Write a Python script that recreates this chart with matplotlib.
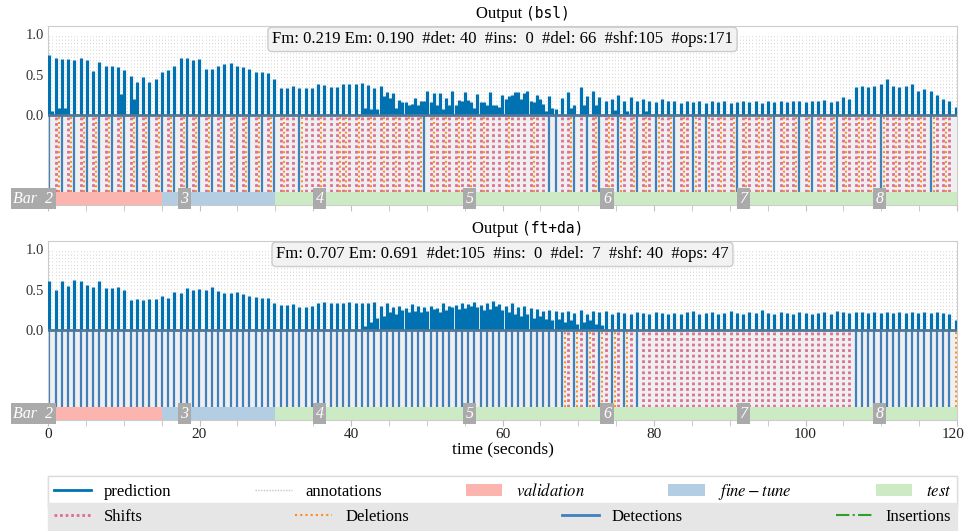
import matplotlib.pyplot as plt
from matplotlib.lines import Line2D
from matplotlib.patches import Patch
from matplotlib.transforms import ScaledTranslation

plt.rcParams['font.family'] = ['Liberation Serif', 'DejaVu Serif']
plt.rcParams['mathtext.fontset'] = 'stix'

# annotation grid (seconds)
annotations = [
    0.18, 0.59, 1.01, 1.42, 1.83, 2.24, 2.66, 3.07, 3.48, 3.89, 4.31, 4.72, 5.13, 5.54, 5.96, 6.37, 6.78, 7.19, 7.61, 8.02,
    8.43, 8.84, 9.26, 9.67, 10.08, 10.49, 10.91, 11.32, 11.73, 12.14, 12.56, 12.97, 13.38, 13.79, 14.21, 14.62, 15.03, 15.44, 15.86, 16.27,
    16.68, 17.09, 17.51, 17.92, 18.33, 18.74, 19.16, 19.57, 19.98, 20.39, 20.81, 21.22, 21.63, 22.04, 22.46, 22.87, 23.28, 23.69, 24.11, 24.52,
    24.93, 25.34, 25.76, 26.17, 26.58, 26.99, 27.41, 27.82, 28.23, 28.64, 29.06, 29.47, 29.88, 30.29, 30.71, 31.12, 31.53, 31.94, 32.36, 32.77,
    33.18, 33.59, 34.01, 34.42, 34.83, 35.24, 35.66, 36.07, 36.48, 36.89, 37.31, 37.72, 38.13, 38.54, 38.96, 39.37, 39.78, 40.19, 40.61, 41.02,
    41.43, 41.84, 42.26, 42.67, 43.08, 43.49, 43.91, 44.32, 44.73, 45.14, 45.56, 45.97, 46.38, 46.79, 47.21, 47.62, 48.03, 48.44, 48.86, 49.27,
    49.68, 50.09, 50.51, 50.92, 51.33, 51.74, 52.16, 52.57, 52.98, 53.39, 53.81, 54.22, 54.63, 55.04, 55.46, 55.87, 56.28, 56.69, 57.11, 57.52,
    57.93, 58.34, 58.76, 59.17, 59.58, 59.99, 60.41, 60.82, 61.23, 61.64, 62.06, 62.47, 62.88, 63.29, 63.71, 64.12, 64.53, 64.94, 65.36, 65.77,
    66.18, 66.59, 67.01, 67.42, 67.83, 68.24, 68.66, 69.07, 69.48, 69.89, 70.31, 70.72, 71.13, 71.54, 71.96, 72.37, 72.78, 73.19, 73.61, 74.02,
    74.43, 74.84, 75.26, 75.67, 76.08, 76.49, 76.91, 77.32, 77.73, 78.14, 78.56, 78.97, 79.38, 79.79, 80.21, 80.62, 81.03, 81.44, 81.86, 82.27,
    82.68, 83.09, 83.51, 83.92, 84.33, 84.74, 85.16, 85.57, 85.98, 86.39, 86.81, 87.22, 87.63, 88.04, 88.46, 88.87, 89.28, 89.69, 90.11, 90.52,
    90.93, 91.34, 91.76, 92.17, 92.58, 92.99, 93.41, 93.82, 94.23, 94.64, 95.06, 95.47, 95.88, 96.29, 96.71, 97.12, 97.53, 97.94, 98.36, 98.77,
    99.18, 99.59, 100.01, 100.42, 100.83, 101.24, 101.66, 102.07, 102.48, 102.89, 103.31, 103.72, 104.13, 104.54, 104.96, 105.37, 105.78, 106.19, 106.61, 107.02,
    107.43, 107.84, 108.26, 108.67, 109.08, 109.49, 109.91, 110.32, 110.73, 111.14, 111.56, 111.97, 112.38, 112.79, 113.21, 113.62, 114.03, 114.44, 114.86, 115.27,
    115.68, 116.09, 116.51, 116.92, 117.33, 117.74, 118.16, 118.57, 118.98, 119.39, 119.81,
]

# edit operation at each annotation: d=detection, s=shift, x=deletion, .=none
bsl_ops = (
    "d.sxd.sxd.sxd.sxd.sx" "d.sxd.sxd.sxd.sxd.sx" "d.sxd.sxd.sxd.sxd.sx"
    "d.sxd.sxd.sxd.sxs.s." "dxs.s.sxs.s.sxsxs.sx" "s.sxs.sxs.sxs.sxs.sx"
    "d.sxs.sxs.sxs.sxs.sx" "s.s.s.sxs.s.s.sxs.s." "d.d.s.sxd.s.d.sxd.sx"
    "s.dxs.sxd.sxs.dxs.sx" "d.sxs.dxs.dxs.sxs.sx" "d.sxs.sxs.sxd.sxs.sx"
    "d.sxd.sxs.sxd.sxs.sx" "s.sxs.dxs.sxs.sxs.sx" "s.dxs.sxs.."
)
ftda_ops = (
    "d.d.d.d.d.d.d.d.d.d." "d.d.d.d.d.d.d.d.d.d." "d.d.d.d.d.d.d.d.d.d."
    "d.d.d.d.d.d.d.d.d.d." "d.d.d.d.d.d.d.d.d.d." "d.d.d.d.d.d.d.d.d.d."
    "d.d.d.d.d.d.d.d.d.d." "d.d.d.d.d.d.d.d.d.d." "d.d.dxs.dxs.dxs.dxs."
    "dxs.dxs.d.s.s.s.s.s." "s.s.s.s.s.s.s.s.s.s." "s.s.s.s.s.s.s.s.s.s."
    "s.s.s.s.s.s.s.s.s.d." "d.d.d.d.d.d.d.d.d.d." "d.d.d.d.d.x"
)

# network activation peak at each annotation
bsl_pred = [
    0.74, 0.05, 0.70, 0.09, 0.69, 0.09, 0.69, 0, 0.68, 0, 0.70, 0, 0.68, 0, 0.54, 0, 0.65, 0, 0.60, 0,
    0.60, 0, 0.59, 0.26, 0.56, 0, 0.48, 0.20, 0.41, 0, 0.47, 0, 0.41, 0, 0.45, 0, 0.53, 0, 0.56, 0,
    0.60, 0, 0.70, 0, 0.70, 0, 0.68, 0, 0.69, 0, 0.57, 0, 0.57, 0, 0.60, 0, 0.63, 0, 0.64, 0,
    0.61, 0, 0.59, 0, 0.57, 0, 0.53, 0, 0.53, 0, 0.52, 0, 0.45, 0, 0.34, 0, 0.33, 0, 0.36, 0,
    0.34, 0, 0.34, 0, 0.34, 0, 0.38, 0, 0.37, 0, 0.35, 0, 0.35, 0, 0.38, 0, 0.39, 0, 0.39, 0,
    0.40, 0.09, 0.37, 0.07, 0.33, 0.08, 0.36, 0.23, 0.29, 0.21, 0.27, 0.09, 0.19, 0.16, 0.16, 0.12, 0.14, 0.21, 0.12, 0.17,
    0.17, 0.30, 0.16, 0.27, 0.12, 0.27, 0.07, 0.21, 0.12, 0.30, 0.12, 0.19, 0.17, 0.28, 0.19, 0.16, 0.09, 0.26, 0.16, 0.16,
    0.12, 0.28, 0.12, 0.12, 0.10, 0.25, 0.20, 0.23, 0.25, 0.28, 0.29, 0.20, 0.27, 0.30, 0.18, 0.16, 0.25, 0.20, 0.14, 0.05,
    0.23, 0.09, 0.07, 0, 0.21, 0, 0.28, 0.09, 0.12, 0, 0.35, 0.12, 0.23, 0, 0.30, 0.12, 0.22, 0, 0.18, 0,
    0.20, 0.06, 0.25, 0, 0.18, 0.05, 0.22, 0, 0.17, 0, 0.20, 0.05, 0.18, 0, 0.16, 0, 0.20, 0, 0.17, 0,
    0.17, 0, 0.15, 0, 0.18, 0, 0.16, 0, 0.17, 0, 0.15, 0, 0.18, 0, 0.16, 0, 0.17, 0, 0.15, 0,
    0.16, 0, 0.18, 0, 0.16, 0, 0.17, 0, 0.15, 0, 0.18, 0, 0.16, 0, 0.17, 0, 0.16, 0, 0.18, 0,
    0.17, 0, 0.16, 0, 0.18, 0, 0.17, 0, 0.19, 0, 0.16, 0, 0.18, 0, 0.22, 0, 0.20, 0, 0.35, 0,
    0.36, 0, 0.35, 0, 0.36, 0, 0.38, 0, 0.45, 0, 0.36, 0, 0.35, 0, 0.36, 0, 0.38, 0, 0.30, 0,
    0.32, 0, 0.30, 0, 0.25, 0, 0.20, 0, 0.18, 0, 0.10,
]
ftda_pred = [
    0.60, 0, 0.49, 0, 0.61, 0, 0.54, 0, 0.62, 0, 0.61, 0, 0.56, 0, 0.53, 0, 0.61, 0, 0.52, 0,
    0.52, 0, 0.53, 0, 0.50, 0, 0.37, 0, 0.38, 0, 0.37, 0, 0.38, 0, 0.38, 0, 0.42, 0, 0.40, 0,
    0.47, 0, 0.46, 0, 0.52, 0, 0.49, 0, 0.51, 0, 0.50, 0, 0.53, 0, 0.48, 0, 0.46, 0, 0.46, 0,
    0.47, 0, 0.44, 0, 0.42, 0, 0.41, 0, 0.40, 0, 0.40, 0, 0.34, 0, 0.31, 0, 0.31, 0, 0.32, 0,
    0.29, 0, 0.29, 0, 0.30, 0, 0.33, 0, 0.35, 0, 0.33, 0, 0.34, 0, 0.33, 0, 0.35, 0, 0.34, 0,
    0.34, 0.05, 0.33, 0.10, 0.35, 0.15, 0.30, 0.18, 0.33, 0.22, 0.28, 0.20, 0.30, 0.25, 0.27, 0.22, 0.32, 0.24, 0.30, 0.22,
    0.28, 0.24, 0.30, 0.26, 0.27, 0.22, 0.33, 0.25, 0.30, 0.28, 0.31, 0.26, 0.34, 0.27, 0.32, 0.30, 0.35, 0.28, 0.31, 0.25,
    0.34, 0.26, 0.36, 0.30, 0.32, 0.25, 0.30, 0.22, 0.33, 0.20, 0.28, 0.18, 0.30, 0.20, 0.27, 0.15, 0.26, 0.18, 0.24, 0.14,
    0.25, 0.12, 0.23, 0.14, 0.22, 0.10, 0.24, 0.12, 0.21, 0.08, 0.25, 0.10, 0.20, 0.12, 0.23, 0.08, 0.22, 0.06, 0.24, 0,
    0.20, 0, 0.22, 0, 0.21, 0, 0.20, 0, 0.22, 0, 0.21, 0, 0.20, 0, 0.22, 0, 0.21, 0, 0.20, 0,
    0.21, 0, 0.20, 0, 0.22, 0, 0.24, 0, 0.20, 0, 0.21, 0, 0.22, 0, 0.20, 0, 0.21, 0, 0.23, 0,
    0.21, 0, 0.20, 0, 0.22, 0, 0.21, 0, 0.25, 0, 0.21, 0, 0.20, 0, 0.22, 0, 0.21, 0, 0.20, 0,
    0.22, 0, 0.21, 0, 0.20, 0, 0.21, 0, 0.22, 0, 0.20, 0, 0.23, 0, 0.22, 0, 0.21, 0, 0.22, 0,
    0.22, 0, 0.21, 0, 0.22, 0, 0.21, 0, 0.22, 0, 0.21, 0, 0.22, 0, 0.21, 0, 0.22, 0, 0.21, 0,
    0.22, 0, 0.21, 0, 0.22, 0, 0.21, 0, 0.20, 0, 0.12,
]

models = ['bsl', 'ft+da']
fm = [0.219, 0.707]
em = [0.190, 0.691]
n_det = [40, 105]
n_ins = [0, 0]
n_del = [66, 7]
n_shf = [105, 40]
n_ops = [171, 47]

bar_numbers = [2, 3, 4, 5, 6, 7, 8]
bar_starts = [0.0, 18.0, 35.9, 55.7, 73.8, 91.8, 109.8]

split_names = ['validation', 'fine-tune', 'test']
split_bounds = [0, 15, 30, 120]
split_colors = ['#fbb4ae', '#b3cde3', '#ccebc5']

pred_color = '#0072b2'
det_color = '#3f80bd'
shf_color = '#db7093'
del_color = '#ff8c1a'
ins_color = '#2ca02c'

W, H = 966, 531
fig = plt.figure(figsize=(W / 100, H / 100), dpi=100)
ax_top = fig.add_axes([48 / W, 1 - 205 / H, 909 / W, 179 / H])
ax_bot = fig.add_axes([48 / W, 1 - 420 / H, 909 / W, 179 / H])

title_split = [0.5264, 0.5215]
all_pred = [bsl_pred, ftda_pred]
all_ops = [bsl_ops, ftda_ops]

for i, ax in enumerate([ax_top, ax_bot]):
    ax.set_xlim(0, 120)
    ax.set_ylim(-1.11, 1.1)
    ax.axhspan(-0.95, 0, color='#efefef', lw=0, zorder=0)
    ax.vlines(annotations, 0, 1.0, colors='#d2d2d2', linestyles=(0, (1, 2.5)), lw=0.7, zorder=1)

    ops = all_ops[i]
    det = [t for t, c in zip(annotations, ops) if c == 'd']
    shf = [t for t, c in zip(annotations, ops) if c == 's']
    dele = [t for t, c in zip(annotations, ops) if c == 'x']
    ax.vlines(det, -0.95, 0, colors=det_color, lw=1.6, zorder=2)
    ax.vlines(shf, -0.95, 0, colors=shf_color, linestyles=(0, (1, 1)), lw=2.0, zorder=2)
    ax.vlines(dele, -0.95, 0, colors=del_color, linestyles=(0, (1, 1.5)), lw=1.4, zorder=2)

    pt = [t for t, h in zip(annotations, all_pred[i]) if h > 0]
    ph = [h for h in all_pred[i] if h > 0]
    ax.vlines(pt, 0, ph, colors=pred_color, lw=2.3, zorder=3)
    ax.axhline(0, color='#4f7799', lw=2, zorder=4)

    for j in range(len(split_names)):
        ax.broken_barh([(split_bounds[j], split_bounds[j + 1] - split_bounds[j])], (-1.11, 0.16),
                       facecolors=split_colors[j], zorder=2)

    for n, t in zip(bar_numbers, bar_starts):
        if n == bar_numbers[0]:
            ax.text(t + 0.7, -1.03, f'Bar  {n}', ha='right', va='center', color='white',
                    style='italic', fontsize=11.5, clip_on=False, zorder=6,
                    bbox=dict(facecolor='#aaaaaa', edgecolor='none', pad=1.8))
        else:
            ax.text(t, -1.03, str(n), ha='center', va='center', color='white',
                    style='italic', fontsize=11.5, zorder=6,
                    bbox=dict(facecolor='#aaaaaa', edgecolor='none', pad=1.8))

    score = (f'Fm: {fm[i]:.3f} Em: {em[i]:.3f}  #det:{n_det[i]:3d}  #ins:{n_ins[i]:3d}  '
             f'#del:{n_del[i]:3d}  #shf:{n_shf[i]:3d}  #ops:{n_ops[i]:3d}')
    ax.text(0.5, 0.97, score, transform=ax.transAxes, ha='center', va='top', fontsize=12, zorder=7,
            bbox=dict(boxstyle='round,pad=0.25', facecolor='#f2f2f2', edgecolor='#cccccc'))

    ax.text(title_split[i], 1.045, 'Output ', transform=ax.transAxes, ha='right', va='baseline', fontsize=12)
    ax.text(title_split[i], 1.045, f'({models[i]})', transform=ax.transAxes, ha='left', va='baseline',
            fontsize=10.5, family='DejaVu Sans Mono')

    ax.set_yticks([0, 0.5, 1.0])
    ax.set_yticklabels(['0.0', '0.5', '1.0'])
    ax.set_xticks(range(0, 121, 20))
    ax.set_xticks(range(0, 121, 5), minor=True)
    ax.tick_params(axis='y', length=0, labelsize=10.5, labelcolor='#333333', pad=3)
    ax.tick_params(axis='x', which='both', direction='out', color='#c0c0c0', length=4,
                   labelsize=11, labelcolor='#222222', pad=2)
    for sp in ax.spines.values():
        sp.set_color('#cccccc')

ax_top.tick_params(axis='x', labelbottom=False)
ax_bot.set_xlabel('time (seconds)', fontsize=12.5, labelpad=0)

# keep the last tick label inside the canvas
last = ax_bot.get_xticklabels()[-1]
last.set_horizontalalignment('right')
last.set_transform(last.get_transform() + ScaledTranslation(0.08, 0, fig.dpi_scale_trans))

row1 = [Line2D([], [], color=pred_color, lw=2),
        Line2D([], [], color='#c4c4c4', lw=1, linestyle=(0, (1, 1))),
        Patch(facecolor=split_colors[0]), Patch(facecolor=split_colors[1]), Patch(facecolor=split_colors[2])]
labels1 = ['prediction', 'annotations'] + [f'${s}$' for s in split_names]
row2 = [Line2D([], [], color=shf_color, lw=2, linestyle=(0, (1, 1))),
        Line2D([], [], color=del_color, lw=1.5, linestyle=(0, (1, 1.5))),
        Line2D([], [], color=det_color, lw=2),
        Line2D([], [], color=ins_color, lw=1.5, linestyle='-.')]
labels2 = ['Shifts', 'Deletions', 'Detections', 'Insertions']

leg1 = fig.legend(row1, labels1, loc='upper left', bbox_to_anchor=(48 / W, 1 - 476 / H - 0.01, 909 / W, 0.01),
                  mode='expand', ncol=5, fontsize=12, frameon=True, fancybox=False,
                  edgecolor='#dddddd', facecolor='white', framealpha=1, borderaxespad=0,
                  handlelength=2.2, borderpad=0.35)
leg2 = fig.legend(row2, labels2, loc='upper left', bbox_to_anchor=(48 / W, 1 - 503 / H - 0.01, 909 / W, 0.01),
                  mode='expand', ncol=4, fontsize=12, frameon=True, fancybox=False,
                  edgecolor='#e6e6e6', facecolor='#e6e6e6', framealpha=1, borderaxespad=0,
                  handlelength=2.2, borderpad=0.35)
fig.add_artist(leg1)

fig.savefig('out.png', dpi=100)
